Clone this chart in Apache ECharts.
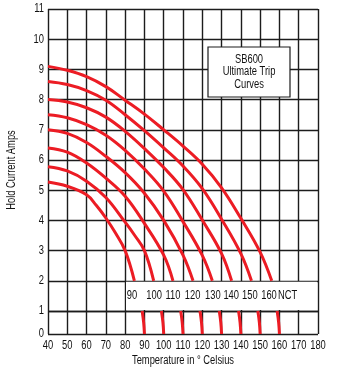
<!DOCTYPE html>
<html><head><meta charset="utf-8">
<script src="https://cdn.jsdelivr.net/npm/echarts@6/dist/echarts.min.js"></script>
<style>html,body{margin:0;padding:0;background:#fff}#c{width:338px;height:372px}</style>
</head><body><div id="c"></div>
<script>
// ---- data ----
const xMin = 40, xMax = 180, xStep = 10;
const yMinTop = 1, yMaxTop = 11, yMinBottom = 0, yMaxBottom = 1;
const xTickLabels = ['40','50','60','70','80','90','100','110','120','130','140','150','160','170','180'];
const yTickLabels = ['0','1','2','3','4','5','6','7','8','9','10','11'];
const nctNames = ['90', '100', '110', '120', '130', '140', '150', '160'];
// upper part of each ultimate trip curve (temperature °C, hold current A)
const c90  = [[40,5.27],[50,5.13],[60,4.85],[65,4.5],[70,4.08],[75,3.58],[80,3.0],[84.8,2.0]];
const c100 = [[40,5.78],[50,5.64],[60,5.3],[70,4.76],[80,3.94],[85,3.5],[90,3.0],[94.8,2.0]];
const c110 = [[40,6.4],[50,6.26],[60,5.9],[70,5.4],[80,4.8],[90,3.9],[100,2.85],[104.8,2.0]];
const c120 = [[40,7.0],[50,6.88],[60,6.58],[70,6.12],[80,5.58],[90,4.9],[100,4.0],[110,2.85],[115.2,2.0]];
const c130 = [[40,7.5],[50,7.4],[60,7.17],[70,6.82],[80,6.32],[90,5.7],[100,4.97],[110,3.96],[120,2.84],[125.2,2.0]];
const c140 = [[40,8.0],[50,7.92],[60,7.73],[70,7.42],[80,6.95],[90,6.38],[100,5.75],[110,5.02],[120,4.01],[130,2.9],[135.2,2.0]];
const c150 = [[40,8.6],[50,8.5],[60,8.3],[70,7.98],[80,7.5],[90,6.97],[100,6.4],[110,5.8],[120,5.05],[130,4.04],[140,2.9],[145.5,2.0]];
const c160 = [[40,9.1],[50,8.97],[60,8.76],[70,8.43],[80,7.98],[90,7.52],[100,7.0],[110,6.46],[120,5.86],[130,5.08],[140,4.07],[150,2.95],[156,2.0]];
// lower part of each curve (between 1 A and 0 A)
const l90  = [[88.8,1],[89.6,0.5],[90,0]];
const l100 = [[98.8,1],[99.6,0.5],[100,0]];
const l110 = [[108.8,1],[109.6,0.5],[110,0]];
const l120 = [[118.8,1],[119.6,0.5],[120,0]];
const l130 = [[128.8,1],[129.6,0.5],[130,0]];
const l140 = [[138.8,1],[139.6,0.5],[140,0]];
const l150 = [[148.8,1],[149.6,0.5],[150,0]];
const l160 = [[158.8,1],[159.6,0.5],[160,0]];
// labels in the white band
const bandLabels = ['90', '100', '110', '120', '130', '140', '150', '160', 'NCT'];
const bandLabelX = [83.5, 95, 104.8, 115, 125.5, 135, 144.7, 154.6, 164.3];
const bandLabelY = 1.5;
const bandArea = [[80, 1], [180, 2]];
const titleLines = ['SB600', 'Ultimate Trip', 'Curves'];
const xName = 'Temperature in ° Celsius';
const yName = 'Hold Current Amps';

// ---- chart ----
const FONT = "12px 'Liberation Sans', Arial, sans-serif";
const SX = 0.78;           // condensed look
const TXT = '#111';
const RED = '#ec1c24';
const GRIDC = '#1c1c1c';
const upper = [c90, c100, c110, c120, c130, c140, c150, c160];
const lower = [l90, l100, l110, l120, l130, l140, l150, l160];

const chart = echarts.init(document.getElementById('c'), null, {renderer: 'canvas'});

const splitLine = {show: true, lineStyle: {color: GRIDC, width: 1.4}};
const hidden = {axisLine: {show: false}, axisTick: {show: false}, axisLabel: {show: false}};
const series = [];
upper.forEach((d, i) => series.push({
  type: 'line', name: nctNames[i], xAxisIndex: 0, yAxisIndex: 0, data: d,
  smooth: 0.4, symbol: 'none', lineStyle: {color: RED, width: 3}, z: 5, silent: true
}));
lower.forEach((d, i) => series.push({
  type: 'line', name: nctNames[i] + ' low', xAxisIndex: 1, yAxisIndex: 1, data: d,
  smooth: 0.4, symbol: 'none', lineStyle: {color: RED, width: 3}, z: 5, silent: true
}));
series.push({
  type: 'scatter', xAxisIndex: 0, yAxisIndex: 0, symbolSize: 0, silent: true, z: 6,
  data: [],
  markArea: {silent: true, itemStyle: {color: '#fff'},
    data: [[{coord: [bandArea[0][0] + 0.45, bandArea[0][1] + 0.035]},
            {coord: [bandArea[1][0] - 0.45, bandArea[1][1] - 0.035]}]]}
});

chart.setOption({
  animation: false,
  backgroundColor: '#fff',
  grid: [
    {left: 48, width: 270, top: 9, height: 302},
    {left: 48, width: 270, top: 311, height: 23}
  ],
  xAxis: [
    Object.assign({type: 'value', gridIndex: 0, min: xMin, max: xMax, interval: xStep, splitLine}, hidden),
    Object.assign({type: 'value', gridIndex: 1, min: xMin, max: xMax, interval: xStep, splitLine}, hidden)
  ],
  yAxis: [
    Object.assign({type: 'value', gridIndex: 0, min: yMinTop, max: yMaxTop, interval: 1, splitLine}, hidden),
    Object.assign({type: 'value', gridIndex: 1, min: yMinBottom, max: yMaxBottom, interval: 1, splitLine}, hidden)
  ],
  series
});

// ---- text drawn through the axes' own scales ----
function txt(x, y, text, align, extra) {
  return Object.assign({type: 'text', x, y, scaleX: SX, z: 101, silent: true,
    style: {text, fill: TXT, font: FONT, align: align || 'center', verticalAlign: 'middle'}}, extra || {});
}
const g = [];
const bottomPx = chart.convertToPixel({yAxisIndex: 1}, 0);
const leftPx = chart.convertToPixel({xAxisIndex: 1}, xMin);
const rightPx = chart.convertToPixel({xAxisIndex: 1}, xMax);
xTickLabels.forEach(t => {
  g.push(txt(chart.convertToPixel({xAxisIndex: 1}, +t), bottomPx + 12, t));
});
yTickLabels.forEach(t => {
  const v = +t;
  const py = v >= yMinTop ? chart.convertToPixel({yAxisIndex: 0}, v) : chart.convertToPixel({yAxisIndex: 1}, v);
  g.push(txt(leftPx - 4, py, t, 'right'));
});
bandLabels.forEach((t, i) => {
  const p = chart.convertToPixel({xAxisIndex: 0, yAxisIndex: 0}, [bandLabelX[i], bandLabelY]);
  g.push(txt(p[0], p[1], t));
});
g.push(txt((leftPx + rightPx) / 2, bottomPx + 27, xName));
g.push(txt(12, 170, yName, 'center', {rotation: Math.PI / 2}));
// title box
g.push({type: 'rect', x: 208, y: 47, z: 100, silent: true,
  shape: {width: 82, height: 50},
  style: {fill: '#fff', stroke: GRIDC, lineWidth: 1.2}});
titleLines.forEach((t, i) => g.push(txt(249, 59.5 + i * 12.5, t)));

chart.setOption({graphic: g});
</script></body></html>
